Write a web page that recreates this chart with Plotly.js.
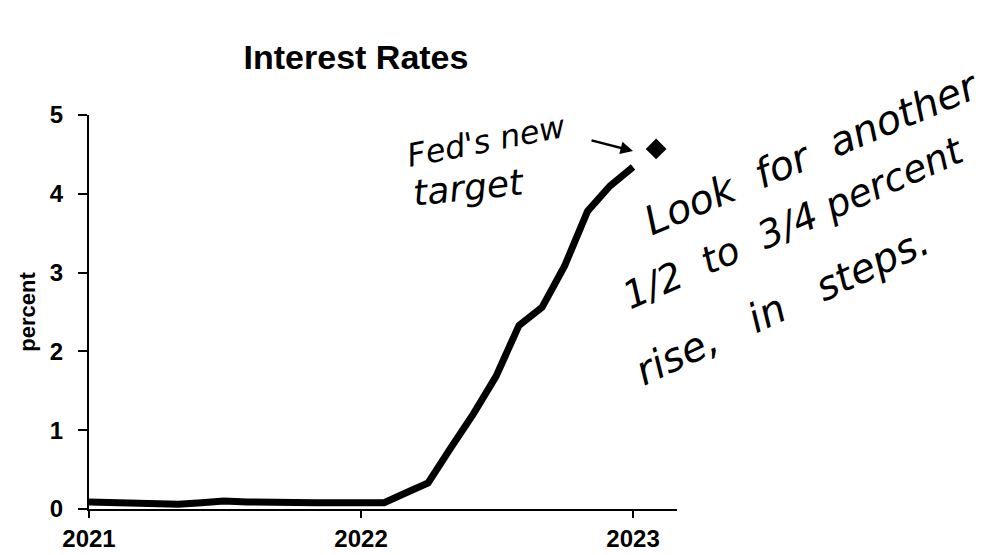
<!DOCTYPE html>
<html>
<head>
<meta charset="utf-8">
<script src="https://cdn.plot.ly/plotly-3.0.1.min.js"></script>
<style>html,body{margin:0;padding:0;background:#fff}#chart{width:988px;height:555px}</style>
</head>
<body>
<div id="chart"></div>
<script>
// Monthly effective federal funds rate (percent), Jan 2021 - Jan 2023
const months = [
  "2021-01-01","2021-02-01","2021-03-01","2021-04-01","2021-05-01","2021-06-01",
  "2021-07-01","2021-08-01","2021-09-01","2021-10-01","2021-11-01","2021-12-01",
  "2022-01-01","2022-02-01","2022-03-01","2022-04-01","2022-05-01","2022-06-01",
  "2022-07-01","2022-08-01","2022-09-01","2022-10-01","2022-11-01","2022-12-01",
  "2023-01-01"
];
const rates = [
  0.09,0.08,0.07,0.07,0.06,0.08,0.10,0.09,0.08,0.08,0.08,0.08,
  0.08,0.08,0.20,0.33,0.77,1.21,1.68,2.33,2.56,3.08,3.78,4.10,
  4.34
];
// Fed's new target point
const targetDate = ["2023-02-01"];
const targetRate = [4.57];

const tickVals = ["2021-01-01","2022-01-01","2023-01-01"];
const tickText = ["2021","2022","2023"];
const yTicks = [0,1,2,3,4,5];

const noteTarget = ["Fed's new", "target"];
const noteSteps = ["Look  for  another", "1/2  to  3/4 percent", "rise,   in   steps."];

const traces = [
  {x: months, y: rates, type: "scatter", mode: "lines",
   line: {color: "#000", width: 7}, cliponaxis: false, hoverinfo: "skip"},
  {x: targetDate, y: targetRate, type: "scatter", mode: "markers",
   marker: {symbol: "diamond", size: 16, color: "#000"}, cliponaxis: false, hoverinfo: "skip"}
];

const L = 89, R = 677, T = 115, B = 509;
const px = v => (v - L) / (R - L);
const py = v => (B - v) / (B - T);
const hand = s => ({family: "DejaVu Sans, sans-serif", size: s, color: "#000", style: "italic"});

function note(text, cx, cy, angle, size) {
  return {xref: "paper", yref: "paper", x: px(cx), y: py(cy), text: text.replace(/ /g, "&nbsp;"),
          showarrow: false, textangle: angle, font: hand(size),
          xanchor: "center", yanchor: "middle"};
}

const layout = {
  width: 988, height: 555,
  margin: {l: L, r: 988 - R, t: T, b: 555 - B},
  paper_bgcolor: "#fff", plot_bgcolor: "#fff",
  showlegend: false,
  font: {family: "Liberation Sans, Arial, sans-serif", color: "#000"},
  title: {text: "<b>Interest Rates</b>", font: {size: 34, color: "#000"},
          x: 356/988, xanchor: "center", y: 1 - 57/555, yanchor: "middle"},
  xaxis: {
    type: "date", range: ["2021-01-01", "2023-03-01"],
    tickvals: tickVals, ticktext: tickText,
    ticks: "outside", ticklen: 7, tickwidth: 2, tickcolor: "#000",
    showline: true, linecolor: "#000", linewidth: 2,
    showgrid: false, zeroline: false,
    tickfont: {size: 24, color: "#000", weight: "bold"}
  },
  yaxis: {
    range: [0, 5], tickvals: yTicks,
    ticks: "outside", ticklen: 9, tickwidth: 2, tickcolor: "#000",
    showline: true, linecolor: "#000", linewidth: 2,
    showgrid: false, zeroline: false, ticklabelstandoff: 10,
    tickfont: {size: 24, color: "#000", weight: "bold"},
    title: {text: "<b>percent</b>", font: {size: 22, color: "#000"}, standoff: 8}
  },
  annotations: [
    note(noteTarget[0], 486, 141, -11, 32),
    note(noteTarget[1], 469, 188, -6, 36),
    {xref: "paper", yref: "paper", x: px(633), y: py(151),
     ax: -43, ay: -11, text: "", showarrow: true, arrowhead: 2, arrowsize: 1,
     arrowwidth: 2.5, arrowcolor: "#000"},
    note(noteSteps[0], 811, 153, -23, 40),
    note(noteSteps[1], 793, 223, -24, 38),
    note(noteSteps[2], 782, 306, -25, 40)
  ]
};

Plotly.newPlot("chart", traces, layout, {displayModeBar: false, staticPlot: true});
</script>
</body>
</html>
